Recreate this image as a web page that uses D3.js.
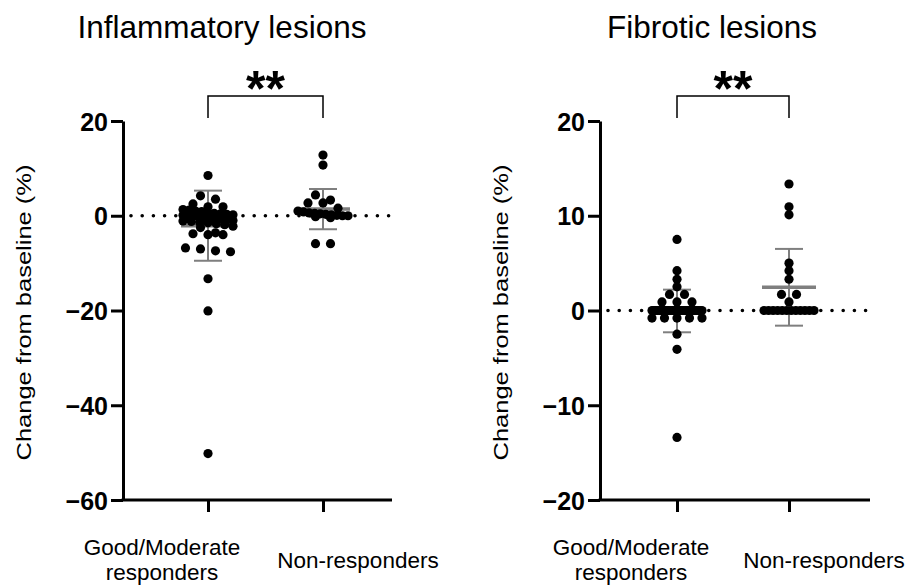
<!DOCTYPE html>
<html>
<head>
<meta charset="utf-8">
<script src="https://cdn.jsdelivr.net/npm/d3@7"></script>
<style>
  html, body { margin: 0; padding: 0; background: #fff; }
  svg { display: block; }
  text { font-family: "Liberation Sans", Arial, sans-serif; fill: #000; }
</style>
</head>
<body>
<svg id="chart" width="914" height="586"></svg>
<script>
// ---------------- DATA ----------------
const categories = ["Good/Moderate\nresponders", "Non-responders"];
const panelTitles = ["Inflammatory lesions", "Fibrotic lesions"];
const yAxisLabel = "Change from baseline (%)";
const significance = ["**", "**"];

const leftDomain = [-60, 20];
const leftTicks = [-60, -40, -20, 0, 20];
const rightDomain = [-20, 20];
const rightTicks = [-20, -10, 0, 10, 20];

// Inflammatory lesions
const inflamGood = [8.5, 4.2, 3.5, 2.5, 1.9, 1.9, 1.3, 1.2, 1.0, 0.9, 0.7, 0.5, 0.4, 0.3, 0.2, 0.1, 0.0, 0.0,
  -0.1, -0.3, -0.4, -0.5, -0.6, -0.7, -0.8, -1.0, -1.1, -1.2, -1.4, -1.5, -1.7, -1.9, -2.2, -2.5,
  -3.6, -3.8, -4.0, -4.0, -6.8, -7.0, -7.4, -7.6, -13.3, -20.1, -50.2];
const inflamNon = [12.8, 10.7, 4.4, 3.3, 2.7, 2.7, 1.6, 1.0, 0.8, 0.6, 0.5, 0.4, 0.3, 0.2, 0.1, 0.0, 0.0,
  -0.2, -0.4, -5.9, -5.9];
const inflamMeans = [-2.1, 1.4];
const inflamSDs = [7.4, 4.25];

// Fibrotic lesions
const fibroGood = [7.5, 4.2, 3.3, 2.5, 1.7, 1.7, 0.9, 0.9, 0.9,
  0, 0, 0, 0, 0, 0, 0, 0, 0, 0, 0, 0, 0, 0, 0, 0, 0, 0, 0, 0, 0, 0, 0, 0, 0, 0, 0, 0,
  -0.8, -0.8, -0.8, -0.8, -0.8, -2.5, -4.1, -13.4];
const fibroNon = [13.35, 10.95, 10.1, 5.0, 4.2, 3.3, 1.7, 1.7, 0.9,
  0, 0, 0, 0, 0, 0, 0, 0, 0, 0, 0, 0];
const fibroMeans = [-0.05, 2.45];
const fibroSDs = [2.25, 4.05];

// ---------------- LAYOUT ----------------
const svg = d3.select("#chart");
const plotTop = 121, plotBottom = 500;

const panels = [
  { title: panelTitles[0], axisX: 123, xEnd: 392, catRange: [208, 323], domain: leftDomain, ticks: leftTicks,
    groups: [inflamGood, inflamNon], means: inflamMeans, sds: inflamSDs, sig: significance[0], titleX: 222, labelX: 31 },
  { title: panelTitles[1], axisX: 600, xEnd: 870, catRange: [677, 789], domain: rightDomain, ticks: rightTicks,
    groups: [fibroGood, fibroNon], means: fibroMeans, sds: fibroSDs, sig: significance[1], titleX: 712, labelX: 508 }
];

const labelShift = [-46, 35];
const grey = "#7f7f7f";
const dotR = 4.6;

function swarm(values, y, cx) {
  const sorted = values.slice().sort((a, b) => b - a);
  const rows = [];
  let cur = null;
  sorted.forEach(v => {
    const py = y(v);
    if (cur && Math.abs(py - cur.y0) < 5.5) cur.items.push(v);
    else { cur = { y0: py, items: [v] }; rows.push(cur); }
  });
  const out = [];
  rows.forEach(r => {
    const k = r.items.length;
    const sp = k > 1 ? Math.min(15, 50 / (k - 1)) : 0;
    r.items.forEach((v, i) => out.push({ v, x: cx + (i - (k - 1) / 2) * sp }));
  });
  return out;
}

panels.forEach(p => {
  const g = svg.append("g");
  const y = d3.scaleLinear().domain(p.domain).range([plotBottom, plotTop]);
  const x = d3.scalePoint().domain(categories).range(p.catRange);

  // title
  g.append("text").attr("x", p.titleX).attr("y", 38).attr("text-anchor", "middle")
    .attr("font-size", 31.5).text(p.title);

  // y label
  g.append("text")
    .attr("transform", `translate(${p.labelX},${(plotTop + plotBottom) / 2 + 2}) rotate(-90)`)
    .attr("text-anchor", "middle").attr("font-size", 20.5)
    .attr("textLength", 296).attr("lengthAdjust", "spacingAndGlyphs")
    .text(yAxisLabel);

  // y axis
  const ya = g.append("g").attr("transform", `translate(${p.axisX},0)`)
    .call(d3.axisLeft(y).tickValues(p.ticks).tickSize(12).tickSizeOuter(0).tickPadding(3));
  ya.select(".domain").attr("stroke-width", 3).attr("stroke", "#000");
  ya.selectAll(".tick line").attr("stroke-width", 3).attr("stroke", "#000");
  ya.selectAll(".tick text").attr("font-size", 25).attr("font-weight", "bold")
    .attr("font-family", "'Liberation Sans', Arial, sans-serif").attr("dy", "0.36em");

  // x axis line
  g.append("line").attr("x1", p.axisX - 1.5).attr("x2", p.xEnd).attr("y1", plotBottom).attr("y2", plotBottom)
    .attr("stroke", "#000").attr("stroke-width", 3);
  const xa = g.append("g").attr("transform", `translate(0,${plotBottom})`)
    .call(d3.axisBottom(x).tickSize(12).tickFormat(""));
  xa.select(".domain").remove();
  xa.selectAll(".tick line").attr("stroke-width", 3).attr("stroke", "#000");

  // category labels
  categories.forEach((c, i) => {
    const lines = c.split("\n");
    const t = g.append("text").attr("text-anchor", "middle").attr("font-size", 22.5);
    const base = 568 - (lines.length - 1) * 13;
    lines.forEach((ln, j) => {
      t.append("tspan").attr("x", x(c) + labelShift[i]).attr("y", base + j * 25).text(ln);
    });
  });

  // zero dotted line
  g.append("line").attr("x1", p.axisX + 8).attr("x2", p.xEnd).attr("y1", y(0)).attr("y2", y(0))
    .attr("stroke", "#000").attr("stroke-width", 3.6).attr("stroke-linecap", "round")
    .attr("stroke-dasharray", "0,11.2");

  // error bars (mean ± SD)
  categories.forEach((c, i) => {
    const cx = x(c), m = p.means[i], s = p.sds[i];
    g.append("line").attr("x1", cx).attr("x2", cx).attr("y1", y(m - s)).attr("y2", y(m + s))
      .attr("stroke", grey).attr("stroke-width", 2);
    [m - s, m + s].forEach(v => {
      g.append("line").attr("x1", cx - 14).attr("x2", cx + 14).attr("y1", y(v)).attr("y2", y(v))
        .attr("stroke", grey).attr("stroke-width", 2);
    });
    g.append("line").attr("x1", cx - 27).attr("x2", cx + 27).attr("y1", y(m)).attr("y2", y(m))
      .attr("stroke", grey).attr("stroke-width", 3.5);
  });

  // dots
  p.groups.forEach((vals, i) => {
    const pts = swarm(vals, y, x(categories[i]));
    g.selectAll(null).data(pts).enter().append("circle")
      .attr("cx", d => d.x).attr("cy", d => y(d.v)).attr("r", dotR).attr("fill", "#000");
  });

  // significance bracket
  const x0 = x(categories[0]), x1 = x(categories[1]);
  g.append("path").attr("d", `M${x0},118V96H${x1}V118`).attr("fill", "none")
    .attr("stroke", "#000").attr("stroke-width", 1.5);
  g.append("text").attr("x", (x0 + x1) / 2).attr("y", 106).attr("text-anchor", "middle")
    .attr("font-family", "'DejaVu Sans', sans-serif").attr("font-weight", "bold")
    .attr("font-size", 50).text(p.sig);
});
</script>
</body>
</html>
